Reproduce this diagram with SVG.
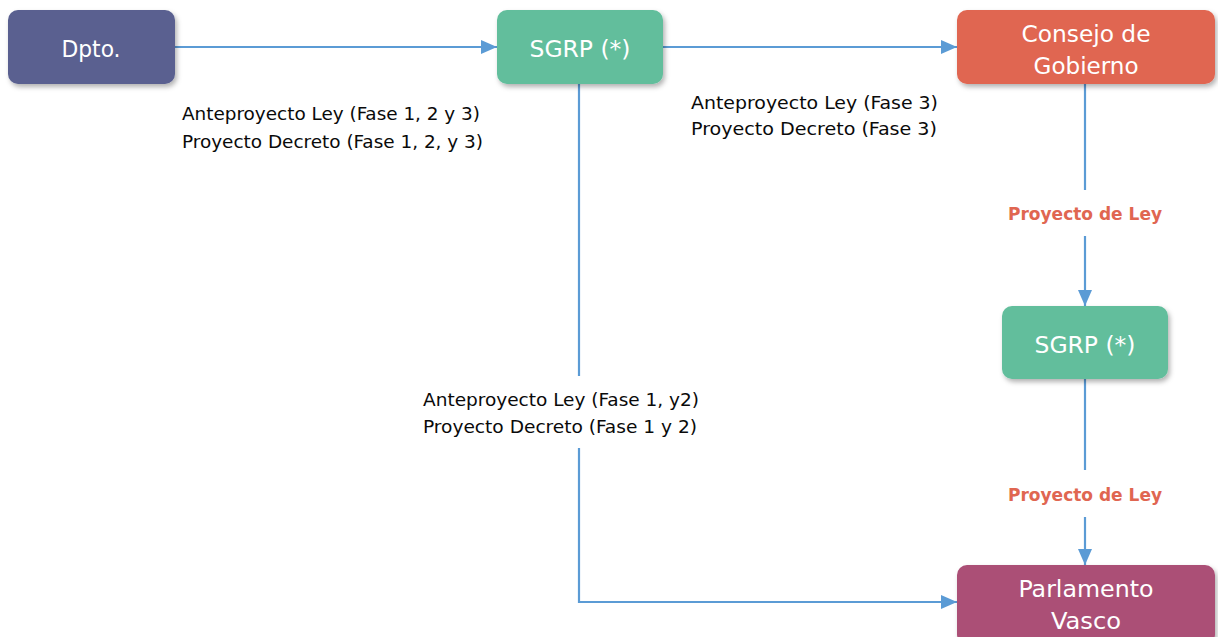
<svg xmlns="http://www.w3.org/2000/svg" width="1218" height="637" viewBox="0 0 1218 637">
<style>
.node{stroke:none;filter:url(#sh)}
.nt{font-family:"DejaVu Sans Condensed","DejaVu Sans","Liberation Sans",sans-serif;font-size:23px;fill:#ffffff;text-anchor:middle}
.lbl{font-family:"DejaVu Sans Condensed","DejaVu Sans","Liberation Sans",sans-serif;font-size:18px;fill:#0a0a0a}
.red{font-family:"DejaVu Sans Condensed","DejaVu Sans","Liberation Sans",sans-serif;font-size:18px;font-weight:bold;fill:#E06651;text-anchor:middle}
.c{fill:none;stroke:#5B9BD5;stroke-width:2.2}
</style>
<defs>
<filter id="sh" x="-10%" y="-20%" width="130%" height="150%">
<feDropShadow dx="2" dy="3" stdDeviation="2.5" flood-color="#000" flood-opacity="0.3"/>
</filter>
<marker id="ar" markerWidth="16" markerHeight="14" refX="16" refY="7" orient="auto" markerUnits="userSpaceOnUse">
<path d="M0,0 L16,7 L0,14 Z" fill="#5B9BD5"/>
</marker>
</defs>
<rect width="1218" height="637" fill="#ffffff"/>
<g id="connectors">
<line class="c" x1="175" y1="47" x2="497" y2="47" marker-end="url(#ar)"/>
<line class="c" x1="663" y1="47" x2="957" y2="47" marker-end="url(#ar)"/>
<line class="c" x1="1085" y1="84" x2="1085" y2="190"/>
<line class="c" x1="1085" y1="236" x2="1085" y2="306" marker-end="url(#ar)"/>
<line class="c" x1="1085" y1="379" x2="1085" y2="470"/>
<line class="c" x1="1085" y1="517" x2="1085" y2="565" marker-end="url(#ar)"/>
<line class="c" x1="579" y1="84" x2="579" y2="376"/>
<polyline class="c" points="579,448 579,602 957,602" marker-end="url(#ar)"/>
</g>
<g id="labels">
<text class="lbl" x="182" y="120" textLength="298" lengthAdjust="spacingAndGlyphs">Anteproyecto Ley (Fase 1, 2 y 3)</text>
<text class="lbl" x="182" y="148" textLength="301" lengthAdjust="spacingAndGlyphs">Proyecto Decreto (Fase 1, 2, y 3)</text>
<text class="lbl" x="691" y="109" textLength="247" lengthAdjust="spacingAndGlyphs">Anteproyecto Ley (Fase 3)</text>
<text class="lbl" x="691" y="135" textLength="246" lengthAdjust="spacingAndGlyphs">Proyecto Decreto (Fase 3)</text>
<text class="lbl" x="423" y="406" textLength="276" lengthAdjust="spacingAndGlyphs">Anteproyecto Ley (Fase 1, y2)</text>
<text class="lbl" x="423" y="433" textLength="274" lengthAdjust="spacingAndGlyphs">Proyecto Decreto (Fase 1 y 2)</text>
<text class="red" x="1085" y="220" textLength="154" lengthAdjust="spacingAndGlyphs">Proyecto de Ley</text>
<text class="red" x="1085" y="501" textLength="154" lengthAdjust="spacingAndGlyphs">Proyecto de Ley</text>
</g>
<g id="dpto">
<rect class="node" x="8" y="10" width="167" height="74" rx="10" fill="#5A6190"/>
<text class="nt" x="91" y="57" textLength="59" lengthAdjust="spacingAndGlyphs">Dpto.</text>
</g>
<g id="sgrp1">
<rect class="node" x="497" y="10" width="166" height="74" rx="10" fill="#62BE9C"/>
<text class="nt" x="580" y="57" textLength="101" lengthAdjust="spacingAndGlyphs">SGRP (*)</text>
</g>
<g id="consejo">
<rect class="node" x="957" y="10" width="258" height="74" rx="10" fill="#E06651"/>
<text class="nt" x="1086" y="42" textLength="129" lengthAdjust="spacingAndGlyphs">Consejo de</text>
<text class="nt" x="1086" y="74" textLength="105" lengthAdjust="spacingAndGlyphs">Gobierno</text>
</g>
<g id="sgrp2">
<rect class="node" x="1002" y="306" width="166" height="73" rx="10" fill="#62BE9C"/>
<text class="nt" x="1085" y="353" textLength="101" lengthAdjust="spacingAndGlyphs">SGRP (*)</text>
</g>
<g id="parlamento">
<rect class="node" x="957" y="565" width="258" height="80" rx="10" fill="#AB4F76"/>
<text class="nt" x="1086" y="597" textLength="135" lengthAdjust="spacingAndGlyphs">Parlamento</text>
<text class="nt" x="1086" y="629" textLength="70" lengthAdjust="spacingAndGlyphs">Vasco</text>
</g>
</svg>
